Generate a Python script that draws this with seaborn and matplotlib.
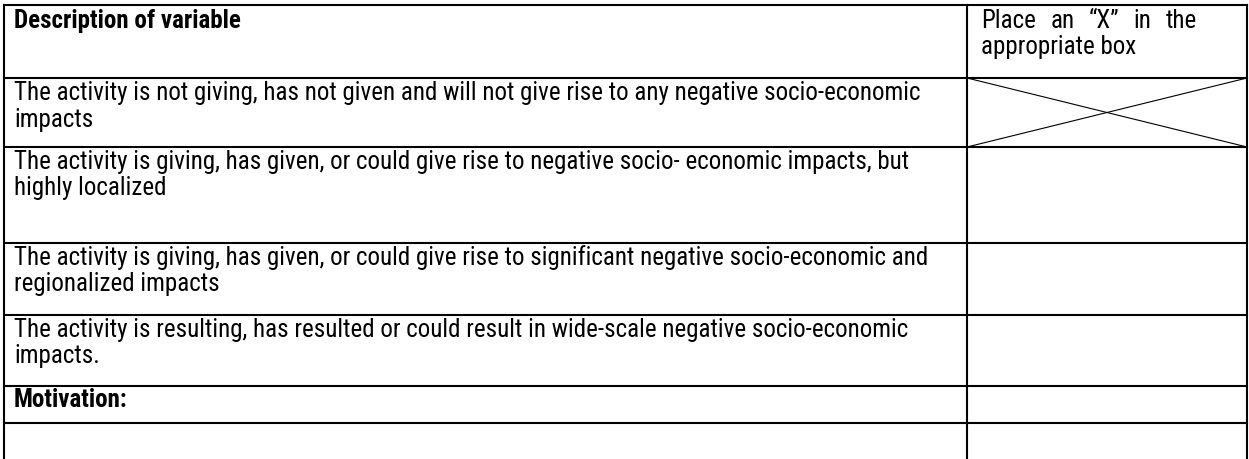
import matplotlib
matplotlib.use("Agg")
import matplotlib.pyplot as plt
import seaborn as sns
import pandas as pd
from matplotlib import font_manager

# --- table content ---
header_left = "Description of variable"
header_right_words = ["Place", "an", "\u201cX\u201d", "in", "the"]
header_right_line2 = "appropriate box"
row_texts = [
    ["The activity is not giving, has not given and will not give rise to any negative socio-economic",
     "impacts"],
    ["The activity is giving, has given, or could give rise to negative socio- economic impacts, but",
     "highly localized"],
    ["The activity is giving, has given, or could give rise to significant negative socio-economic and",
     "regionalized impacts"],
    ["The activity is resulting, has resulted or could result in wide-scale negative socio-economic",
     "impacts."],
]
motivation_label = "Motivation:"
marked_row = 0  # row with the "X" drawn in the box

sns.set_theme(style="white")
names = {f.name for f in font_manager.fontManager.ttflist}
family = "Liberation Sans"
for cand in ["Arial Narrow", "Liberation Sans Narrow", "Roboto Condensed", "Archivo Narrow"]:
    if cand in names:
        family = cand
        break
plt.rcParams["font.family"] = [family, "DejaVu Sans"]
plt.rcParams["text.color"] = "black"

W, H = 1249, 459
fig = plt.figure(figsize=(W / 100, H / 100), dpi=100)
ax = fig.add_axes([0, 0, 1, 1])

x_left, x_mid, x_right = 4, 967, 1247
row_lines = [5, 78, 147, 243, 315, 386, 423]
x_text, x_text_r, x_text_r_end = 14, 981, 1197

# X drawn in the marked box
top, bot = row_lines[marked_row + 1], row_lines[marked_row + 2]
cross = pd.DataFrame({
    "x": [x_mid, x_right, x_mid, x_right],
    "y": [top, bot, bot, top],
    "seg": ["a", "a", "b", "b"],
})
sns.lineplot(data=cross, x="x", y="y", units="seg", estimator=None, color="black",
             lw=0.8, ax=ax, sort=False)
ax.set_xlim(0, W)
ax.set_ylim(H, 0)
ax.axis("off")

# fit font size so the longest line spans like the reference (~899 px)
probe = ax.text(0, 0, row_texts[0][0], fontsize=10)
fig.canvas.draw()
w10 = probe.get_window_extent().width
probe.remove()
fs = 10 * 899 / w10

# rules
for y in row_lines:
    ax.plot([x_left, x_right], [y, y], color="black", lw=1.5, solid_capstyle="projecting")
for x in (x_left, x_mid, x_right):
    ax.plot([x, x], [row_lines[0], H + 2], color="black", lw=1.5, solid_capstyle="projecting")

# header
ax.text(x_text, 21, header_left, fontsize=fs, fontweight="bold", va="center", ha="left")
# justified first line of right header
renderer = fig.canvas.get_renderer()
words = [ax.text(0, 21, w, fontsize=fs, va="center", ha="left") for w in header_right_words]
widths = [t.get_window_extent(renderer).width for t in words]
gap = (x_text_r_end - x_text_r - sum(widths)) / (len(words) - 1)
pos = x_text_r
for t, w in zip(words, widths):
    t.set_x(pos)
    pos += w + gap
ax.text(x_text_r, 47, header_right_line2, fontsize=fs, va="center", ha="left")

# body rows
for i, lines in enumerate(row_texts):
    top = row_lines[i + 1]
    for j, line in enumerate(lines):
        ax.text(x_text, top + 15 + j * 26.5, line, fontsize=fs, va="center", ha="left")

ax.text(x_text, row_lines[5] + 14, motivation_label, fontsize=fs, fontweight="bold",
        va="center", ha="left")

fig.savefig("out.png", dpi=100, facecolor="white")
